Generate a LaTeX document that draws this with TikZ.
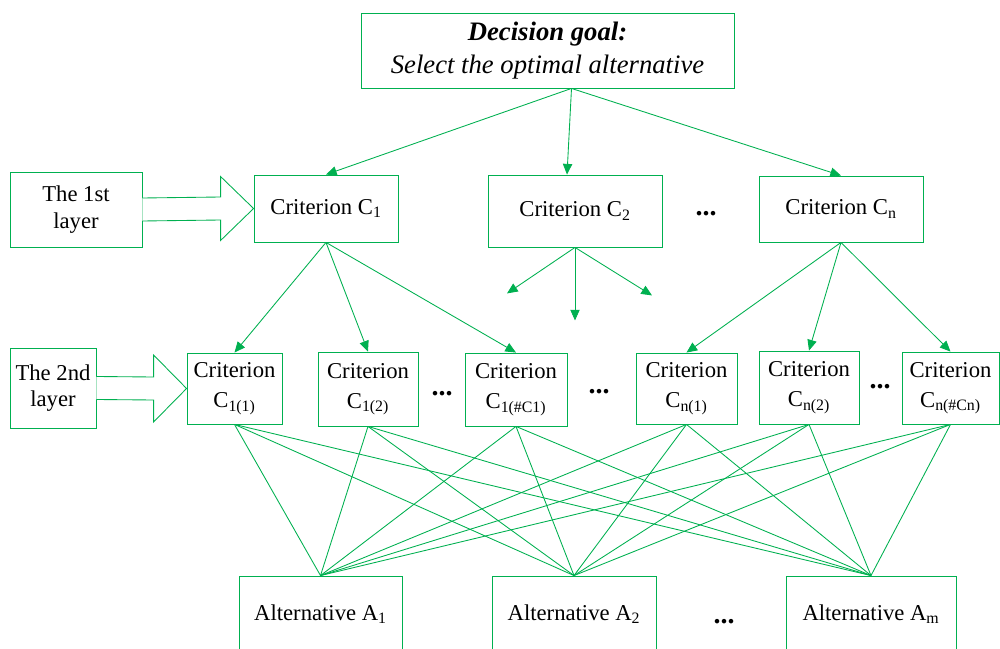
\documentclass[tikz,border=0pt]{standalone}
\usepackage{fontspec}
\setmainfont{Liberation Serif}
\usetikzlibrary{calc}
\usetikzlibrary{arrows.meta}
\definecolor{hgreen}{RGB}{0,176,80}

\begin{document}
\begin{tikzpicture}[x=0.75pt,y=-0.75pt,
    box/.style={draw=hgreen,line width=0.65pt,inner sep=0pt,align=center,font=\fontsize{17}{20}\selectfont},
    crit/.style={box,font=\fontsize{17}{22.5}\selectfont},
    link/.style={draw=hgreen,line width=0.65pt},
    arr/.style={link,-{Triangle[length=8pt,width=7pt]}},
    hollow/.style={draw=hgreen,line width=0.65pt,fill=white},
    dots/.style={anchor=base,inner sep=0pt,font=\fontsize{21}{24}\selectfont\bfseries}]
    \useasboundingbox (0,0) rectangle (1000,649);
    \clip (0,0) rectangle (1000,649);

    % goal
    \node[box,minimum width=279.75pt,minimum height=56.25pt,font=\fontsize{20}{24.75}\selectfont] (goal) at (547.5,50.5)
        {\textbf{\textit{Decision goal:}}\\\textit{Select the optimal alternative}};

    % first layer
    \node[box,minimum width=99pt,minimum height=56.25pt] (l1) at (76,209.5) {The 1st\\layer};
    \node[box,minimum width=108pt,minimum height=50.25pt] (c1) at (326,208.5) {Criterion C\textsubscript{1}};
    \node[box,minimum width=130.5pt,minimum height=54pt] (c2) at (575,211) {Criterion C\textsubscript{2}};
    \node[box,minimum width=123pt,minimum height=49.5pt] (cn) at (841,209) {Criterion C\textsubscript{n}};
    \node[dots] (d1) at (706,216) {...};

    % second layer
    \node[box,minimum width=64.5pt,minimum height=60pt] (l2) at (53,388) {The 2nd\\layer};
    \node[crit,minimum width=71.25pt,minimum height=53.25pt] (c11) at (234.5,388.5) {Criterion\\C\textsubscript{1(1)}};
    \node[crit,minimum width=75pt,minimum height=55.5pt] (c12) at (368,389) {Criterion\\C\textsubscript{1(2)}};
    \node[crit,minimum width=76.5pt,minimum height=54.75pt] (c1k) at (516,389.5) {Criterion\\C\textsubscript{1(\#C1)}};
    \node[crit,minimum width=75.75pt,minimum height=53.25pt] (cn1) at (686.5,388.5) {Criterion\\C\textsubscript{n(1)}};
    \node[crit,minimum width=75pt,minimum height=54.75pt] (cn2) at (809,387.5) {Criterion\\C\textsubscript{n(2)}};
    \node[crit,minimum width=72.75pt,minimum height=54pt] (cnk) at (950.5,388) {Criterion\\C\textsubscript{n(\#Cn)}};
    \node[dots] (d2) at (442,395) {...};
    \node[dots] (d3) at (599,393) {...};
    \node[dots] (d4) at (880,388) {...};

    % alternatives
    \node[box,minimum width=122.25pt,minimum height=57pt] (a1) at (320.5,614) {Alternative A\textsubscript{1}};
    \node[box,minimum width=123pt,minimum height=57pt] (a2) at (574,614) {Alternative A\textsubscript{2}};
    \node[box,minimum width=127.5pt,minimum height=57pt] (am) at (871,614) {Alternative A\textsubscript{m}};
    \node[dots] (d5) at (724,623) {...};

    % layer pointers
    \draw[hollow] ($(l1.east)+(0,-11.5)$) -- ($(c1.west)+(-33,-11.5)$) -- ($(c1.west)+(-33,-32)$)
        -- (c1.west) -- ($(c1.west)+(-33,32)$) -- ($(c1.west)+(-33,11.5)$) -- ($(l1.east)+(0,11.5)$);
    \draw[hollow] ($(l2.east)+(0,-11.5)$) -- ($(c11.west)+(-33,-11.5)$) -- ($(c11.west)+(-33,-33.5)$)
        -- (c11.west) -- ($(c11.west)+(-33,33.5)$) -- ($(c11.west)+(-33,11.5)$) -- ($(l2.east)+(0,11.5)$);

    % goal to criteria
    \coordinate (gs) at ($(goal.south)+(24,0)$);
    \draw[arr] (gs) -- (c1.north);
    \draw[arr] (gs) -- ($(c2.north)+(-8,0)$);
    \draw[arr] (gs) -- (cn.north);

    % criteria to sub-criteria
    \foreach \t in {c11,c12,c1k}
        \draw[arr] (c1.south) -- (\t.north);
    \foreach \t in {cn1,cn2,cnk}
        \draw[arr] (cn.south) -- (\t.north);
    \coordinate (c2l) at ($(c2.south)+(-68,46)$);
    \coordinate (c2m) at ($(c2.south)+(0,73)$);
    \coordinate (c2r) at ($(c2.south)+(77,48)$);
    \foreach \t in {c2l,c2m,c2r}
        \draw[arr] (c2.south) -- (\t);

    % sub-criteria to alternatives
    \foreach \s in {c11,c12,c1k,cn1,cn2,cnk}
        \foreach \t in {a1,a2,am}
            \draw[link] (\s.south) -- (\t.north);
\end{tikzpicture}
\end{document}
